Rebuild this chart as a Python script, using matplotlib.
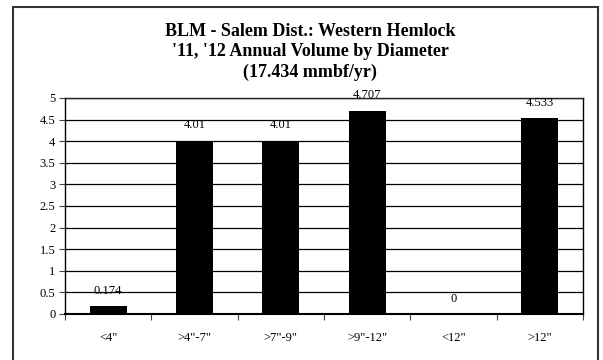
import matplotlib
matplotlib.use("Agg")
import matplotlib.pyplot as plt
from matplotlib.patches import Rectangle

categories = ['<4"', '>4"-7"', '>7"-9"', '>9"-12"', '<12"', '>12"']
values = [0.174, 4.01, 4.01, 4.707, 0, 4.533]
value_labels = ["0.174", "4.01", "4.01", "4.707", "0", "4.533"]
title_lines = ["BLM - Salem Dist.: Western Hemlock",
               "'11, '12 Annual Volume by Diameter",
               "(17.434 mmbf/yr)"]
yticks = [0, 0.5, 1, 1.5, 2, 2.5, 3, 3.5, 4, 4.5, 5]

plt.rcParams['font.family'] = ['Liberation Serif', 'DejaVu Serif']

fig = plt.figure(figsize=(6.03, 3.6), dpi=100)
fig.patch.set_facecolor('white')

# outer chart border
fig.patches.append(Rectangle((13/603, -0.05), (598-13)/603, 1.05 - 7/360,
                             transform=fig.transFigure, fill=False,
                             edgecolor='#333333', linewidth=1.5, zorder=0))

ax = fig.add_axes([65/603, 1-314/360, (583-65)/603, (314-98)/360])
x = list(range(len(categories)))
ax.bar(x, values, width=0.43, color='black', zorder=3)
ax.set_xlim(-0.5, len(categories) - 0.5)
ax.set_ylim(0, 5)
ax.set_yticks(yticks)
ax.set_yticklabels([f"{t:g}" for t in yticks], fontsize=9)
ax.yaxis.grid(True, color='black', linewidth=0.9, zorder=1)
ax.set_axisbelow(True)

ax.set_xticks([i + 0.5 for i in range(-1, len(categories))], minor=False)
ax.set_xticklabels([])
ax.set_xticks(x, minor=True)
ax.set_xticklabels(categories, minor=True, fontsize=9)
ax.tick_params(axis='x', which='major', length=4, direction='out', color='#444444')
ax.tick_params(axis='x', which='minor', length=0, pad=13)
ax.tick_params(axis='y', length=4, direction='out', pad=3, color='#444444')

for s in ax.spines.values():
    s.set_linewidth(1.0)
    s.set_color('black')
ax.spines['bottom'].set_linewidth(1.5)
ax.spines['top'].set_color('#222222')

for xi, v, lab in zip(x, values, value_labels):
    ax.annotate(lab, (xi, v), xytext=(0, 11), textcoords='offset points',
                ha='center', va='center', fontsize=9, zorder=5, annotation_clip=False)

ys = [32, 52, 72]
for yy, t in zip(ys, title_lines):
    fig.text(310/603, 1 - yy/360, t, ha='center', va='center',
             fontsize=13, fontweight='bold')

fig.savefig("out.png", dpi=100)
